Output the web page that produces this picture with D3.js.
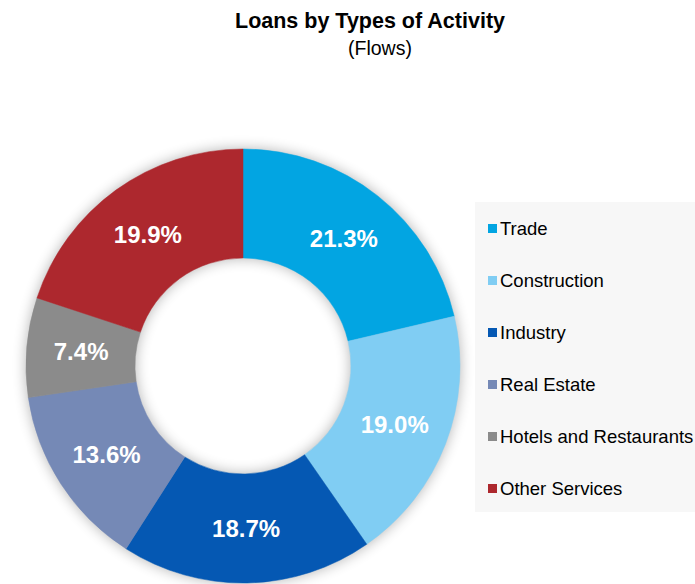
<!DOCTYPE html>
<html lang="en">
  <head>
    <meta charset="utf-8" />
    <title>Loans by Types of Activity</title>
    <script src="https://cdnjs.cloudflare.com/ajax/libs/d3/7.8.5/d3.min.js"></script>
    <style>
      body {
        margin: 0;
        background: #fff;
      }
      svg {
        display: block;
        font-family: "Liberation Sans", Arial, sans-serif;
      }
      .title {
        font-size: 21.5px;
        font-weight: bold;
      }
      .subtitle {
        font-size: 19.5px;
      }
      .slice-label {
        fill: #fff;
        font-size: 24px;
        font-weight: bold;
      }
      .legend text {
        font-size: 18.5px;
        fill: #000;
      }
    </style>
  </head>
  <body>
    <svg id="chart" width="695" height="584"></svg>
    <script>
      // data
      const categories = [
        "Trade",
        "Construction",
        "Industry",
        "Real Estate",
        "Hotels and Restaurants",
        "Other Services",
      ];
      const shares = [21.3, 19.0, 18.7, 13.6, 7.4, 19.9];
      const colors = [
        "#02a5e2",
        "#80cdf3",
        "#0558b3",
        "#7589b6",
        "#8b8b8b",
        "#ad282e",
      ];

      const svg = d3.select("#chart");
      const cx = 243;
      const cy = 366;
      const outerR = 217;
      const innerR = 108;

      // titles
      svg
        .append("text")
        .attr("class", "title")
        .attr("x", 370)
        .attr("y", 28)
        .attr("text-anchor", "middle")
        .text("Loans by Types of Activity");
      svg
        .append("text")
        .attr("class", "subtitle")
        .attr("x", 380)
        .attr("y", 55)
        .attr("text-anchor", "middle")
        .text("(Flows)");

      // soft shadow round the ring
      const defs = svg.append("defs");
      const f = defs
        .append("filter")
        .attr("id", "shadow")
        .attr("x", "-20%")
        .attr("y", "-20%")
        .attr("width", "140%")
        .attr("height", "140%");
      f.append("feGaussianBlur").attr("stdDeviation", 7);

      const data = categories.map((c, i) => ({
        name: c,
        value: shares[i],
        color: colors[i],
      }));

      const pie = d3
        .pie()
        .value((d) => d.value)
        .sort(null);
      const arcs = pie(data);
      const arc = d3.arc().innerRadius(innerR).outerRadius(outerR);

      const g = svg.append("g").attr("transform", `translate(${cx},${cy})`);

      // legend box (drawn before ring so shadow sits over it)
      const legendBox = svg.append("g").attr("class", "legend");
      legendBox
        .append("rect")
        .attr("x", 475)
        .attr("y", 202)
        .attr("width", 220)
        .attr("height", 310)
        .attr("fill", "#f7f7f7");

      g.append("path")
        .attr(
          "d",
          d3.arc().innerRadius(innerR).outerRadius(outerR).startAngle(0).endAngle(2 * Math.PI)()
        )
        .attr("fill", "#000")
        .attr("opacity", 0.3)
        .attr("filter", "url(#shadow)");

      g.selectAll("path.slice")
        .data(arcs)
        .join("path")
        .attr("class", "slice")
        .attr("d", arc)
        .attr("fill", (d) => d.data.color)
        .attr("stroke", (d) => d.data.color)
        .attr("stroke-width", 0.5);

      g.selectAll("text.slice-label")
        .data(arcs)
        .join("text")
        .attr("class", "slice-label")
        .attr("x", (d) => arc.centroid(d)[0])
        .attr("y", (d) => arc.centroid(d)[1])
        .attr("text-anchor", "middle")
        .attr("dy", "0.35em")
        .text((d) => d.data.value.toFixed(1) + "%");

      // legend entries
      const ly = d3
        .scalePoint()
        .domain(categories)
        .range([228.5, 488.5]);

      const items = legendBox
        .selectAll("g.item")
        .data(data)
        .join("g")
        .attr("class", "item")
        .attr("transform", (d) => `translate(488,${ly(d.name)})`);
      items
        .append("rect")
        .attr("x", 0)
        .attr("y", -4.5)
        .attr("width", 9)
        .attr("height", 9)
        .attr("fill", (d) => d.color);
      items
        .append("text")
        .attr("x", 12)
        .attr("y", 6)
        .text((d) => d.name);
    </script>
  </body>
</html>
